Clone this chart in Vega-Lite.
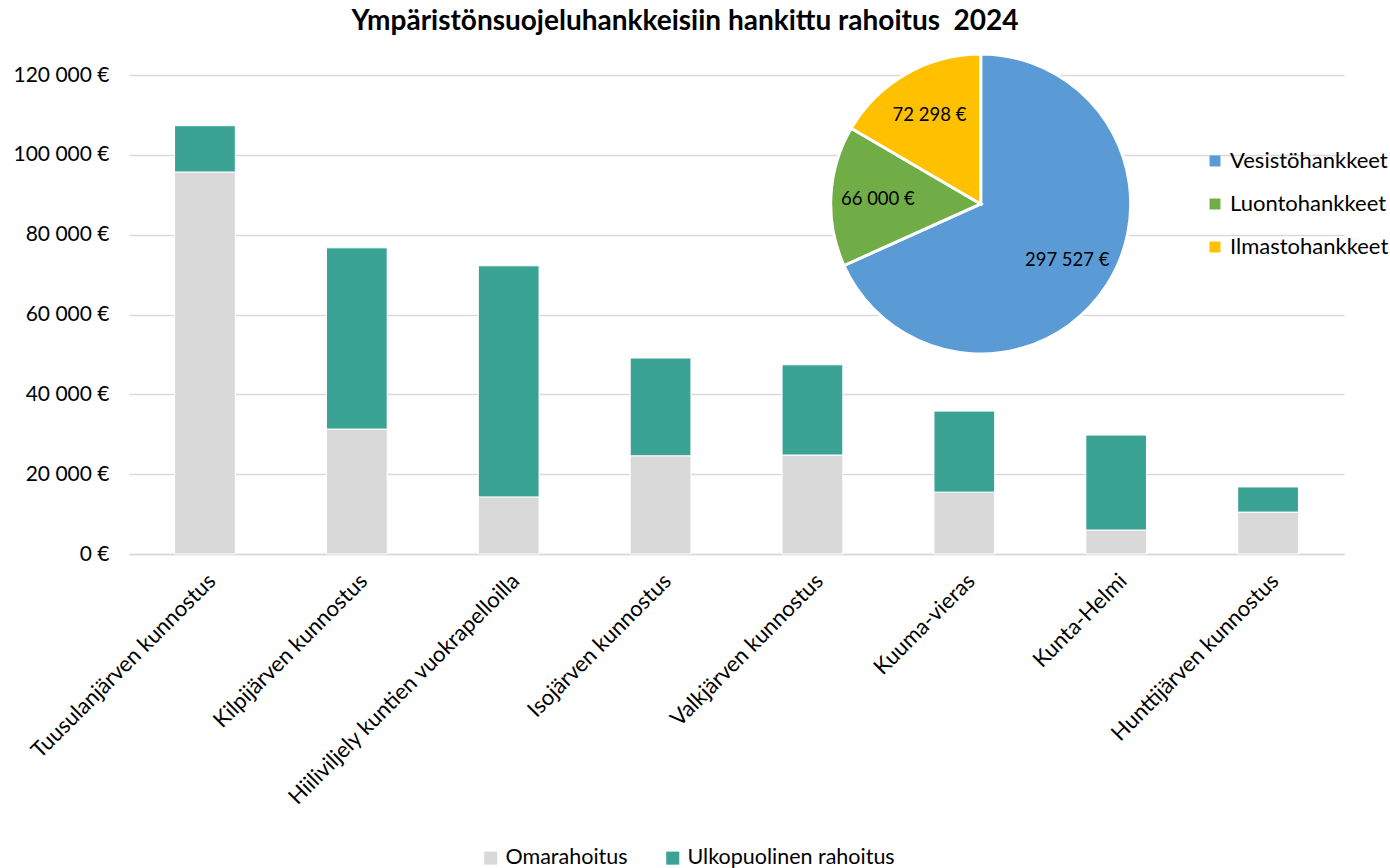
{
  "$schema": "https://vega.github.io/schema/vega-lite/v6.json",
  "width": 1215,
  "height": 479,
  "padding": {"left": 12, "right": 5, "top": 7, "bottom": 2},
  "title": {
    "text": "Ympäristönsuojeluhankkeisiin hankittu rahoitus\u00a0 2024",
    "fontSize": 28,
    "font": "Lato",
    "fontWeight": "bold",
    "color": "#000000",
    "anchor": "middle",
    "frame": "bounds",
    "offset": 12,
    "dx": -16
  },
  "config": {
    "locale": {"number": {"decimal": ",", "thousands": " ", "grouping": [3], "currency": ["", " €"]}},
    "font": "Lato",
    "view": {"stroke": null}
  },
  "datasets": {
    "bars": [
      {"hanke": "Tuusulanjärven kunnostus", "rahoitus": "Omarahoitus", "euro": 95700},
      {"hanke": "Tuusulanjärven kunnostus", "rahoitus": "Ulkopuolinen rahoitus", "euro": 11600},
      {"hanke": "Kilpijärven kunnostus", "rahoitus": "Omarahoitus", "euro": 31300},
      {"hanke": "Kilpijärven kunnostus", "rahoitus": "Ulkopuolinen rahoitus", "euro": 45400},
      {"hanke": "Hiiliviljely kuntien vuokrapelloilla", "rahoitus": "Omarahoitus", "euro": 14300},
      {"hanke": "Hiiliviljely kuntien vuokrapelloilla", "rahoitus": "Ulkopuolinen rahoitus", "euro": 57900},
      {"hanke": "Isojärven kunnostus", "rahoitus": "Omarahoitus", "euro": 24600},
      {"hanke": "Isojärven kunnostus", "rahoitus": "Ulkopuolinen rahoitus", "euro": 24500},
      {"hanke": "Valkjärven kunnostus", "rahoitus": "Omarahoitus", "euro": 24800},
      {"hanke": "Valkjärven kunnostus", "rahoitus": "Ulkopuolinen rahoitus", "euro": 22600},
      {"hanke": "Kuuma-vieras", "rahoitus": "Omarahoitus", "euro": 15500},
      {"hanke": "Kuuma-vieras", "rahoitus": "Ulkopuolinen rahoitus", "euro": 20300},
      {"hanke": "Kunta-Helmi", "rahoitus": "Omarahoitus", "euro": 6000},
      {"hanke": "Kunta-Helmi", "rahoitus": "Ulkopuolinen rahoitus", "euro": 23800},
      {"hanke": "Hunttijärven kunnostus", "rahoitus": "Omarahoitus", "euro": 10500},
      {"hanke": "Hunttijärven kunnostus", "rahoitus": "Ulkopuolinen rahoitus", "euro": 6300}
    ],
    "pie": [
      {"category": "Vesistöhankkeet", "value": 297527},
      {"category": "Luontohankkeet", "value": 66000},
      {"category": "Ilmastohankkeet", "value": 72298}
    ]
  },
  "layer": [
    {
      "data": {"name": "bars"},
      "mark": {"type": "bar", "stroke": "#ffffff", "strokeWidth": 1},
      "encoding": {
        "x": {
          "field": "hanke",
          "type": "nominal",
          "sort": null,
          "scale": {"paddingInner": 0.6, "paddingOuter": 0.3},
          "axis": {
            "title": null,
            "labelAngle": -45,
            "labelFontSize": 22,
            "labelColor": "#000000",
            "ticks": false,
            "domainColor": "#d9d9d9",
            "domainWidth": 1.5,
            "labelPadding": 16,
            "labelLimit": 500
          }
        },
        "y": {
          "field": "euro",
          "type": "quantitative",
          "stack": "zero",
          "scale": {"domain": [0, 120000]},
          "axis": {
            "title": null,
            "values": [0, 20000, 40000, 60000, 80000, 100000, 120000],
            "format": "$,d",
            "labelFontSize": 21,
            "labelColor": "#000000",
            "labelPadding": 20,
            "ticks": false,
            "domain": false,
            "gridColor": "#d9d9d9",
            "gridWidth": 1.5
          }
        },
        "order": {"field": "rahoitus", "sort": "ascending"},
        "color": {
          "field": "rahoitus",
          "type": "nominal",
          "scale": {"domain": ["Omarahoitus", "Ulkopuolinen rahoitus"], "range": ["#D9D9D9", "#3BA394"]},
          "legend": {
            "orient": "none",
            "legendX": 351,
            "legendY": 772,
            "direction": "horizontal",
            "title": null,
            "labelFontSize": 21.5,
            "labelColor": "#000000",
            "labelLimit": 400,
            "symbolType": "square",
            "symbolSize": 170,
            "symbolStrokeWidth": 0,
            "columnPadding": 34
          }
        }
      }
    },
    {
      "data": {"name": "pie"},
      "encoding": {
        "theta": {"field": "value", "type": "quantitative", "stack": true},
        "order": {"field": "category", "sort": "descending"},
        "x": {"datum": "Kuuma-vieras", "bandPosition": 0.77},
        "y": {"datum": 87700}
      },
      "layer": [
        {
          "mark": {"type": "arc", "outerRadius": 150, "stroke": "#ffffff", "strokeWidth": 3},
          "encoding": {
            "color": {
              "field": "category",
              "type": "nominal",
              "scale": {"domain": ["Vesistöhankkeet", "Luontohankkeet", "Ilmastohankkeet"], "range": ["#5B9BD5", "#70AD47", "#FFC000"]},
              "legend": {
                "orient": "none",
                "legendX": 1075,
                "legendY": 75,
                "direction": "vertical",
                "title": null,
                "labelFontSize": 22,
                "labelColor": "#000000",
                "symbolType": "square",
                "symbolSize": 120,
                "symbolStrokeWidth": 0,
                "rowPadding": 21
              }
            }
          }
        },
        {
          "mark": {"type": "text", "radius": 103, "fontSize": 18.5, "color": "#000000"},
          "encoding": {
            "text": {"field": "value", "type": "quantitative", "format": "$,d"}
          }
        }
      ]
    }
  ],
  "resolve": {"scale": {"color": "independent"}}
}
